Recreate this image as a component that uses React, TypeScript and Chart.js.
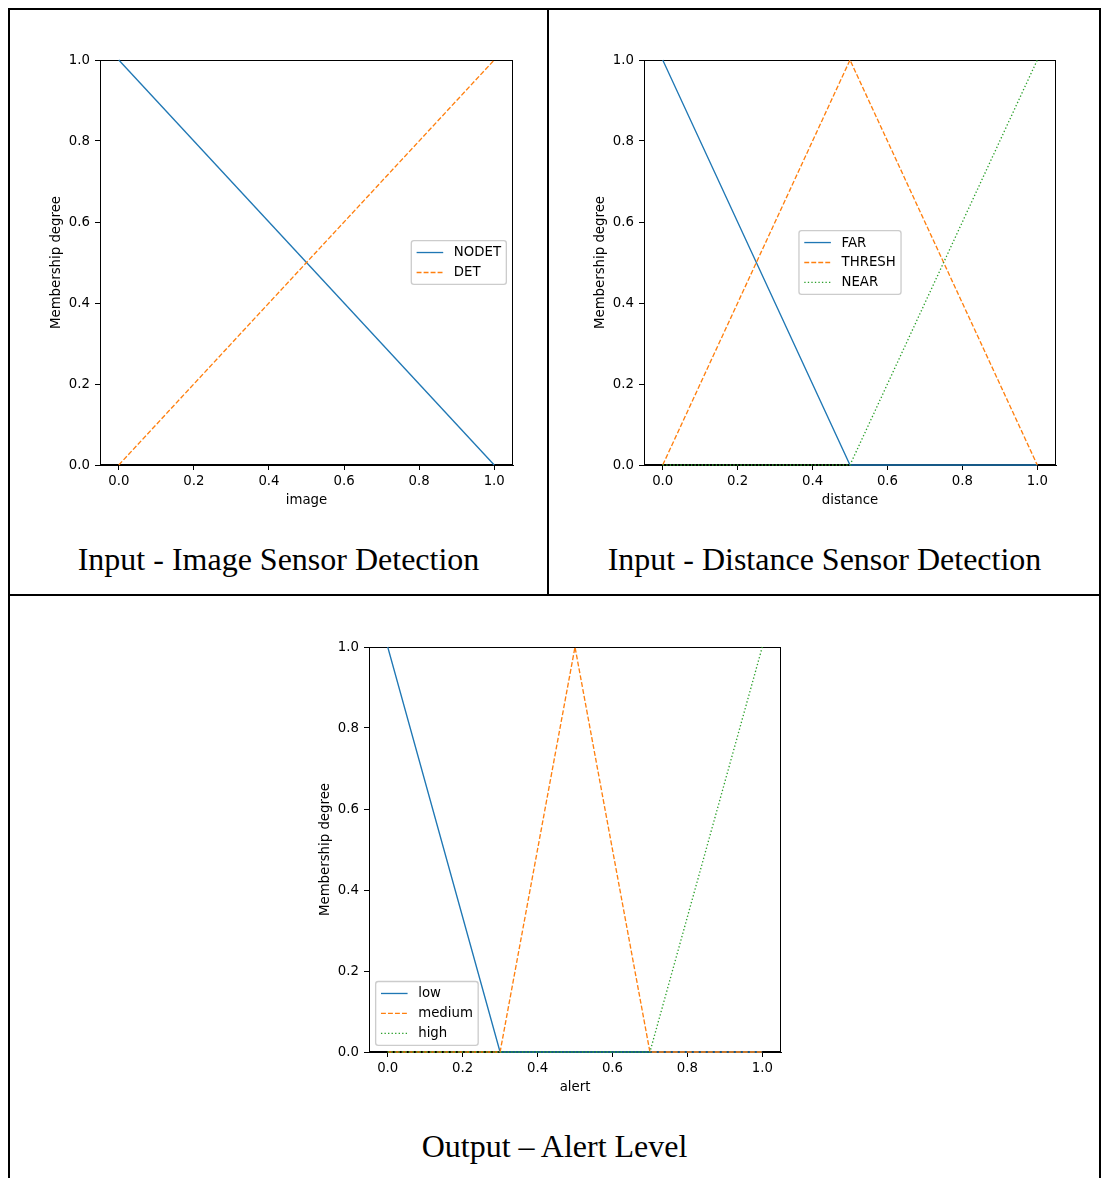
import React, { useEffect, useRef } from 'react';
import { Chart, registerables } from 'chart.js';

Chart.register(...registerables);

// ---------- data ----------
const tickValues = [0, 0.2, 0.4, 0.6, 0.8, 1.0];

const imageX = [0, 1];
const nodetY = [1, 0];
const detY = [0, 1];

const distanceX = [0, 0.5, 1];
const farY = [1, 0, 0];
const threshY = [0, 1, 0];
const nearY = [0, 0, 1];

const alertX = [0, 0.3, 0.5, 0.7, 1];
const lowY = [1, 0, 0, 0, 0];
const mediumY = [0, 0, 1, 0, 0];
const highY = [0, 0, 0, 0, 1];

const captions = ['Input - Image Sensor Detection', 'Input - Distance Sensor Detection', 'Output \u2013 Alert Level'];

// ---------- styles ----------
const BLUE = '#1f77b4';
const ORANGE = '#ff7f0e';
const GREEN = '#2ca02c';
const FS = 13.3;
const FONT_FAMILY = '"DejaVu Sans", sans-serif';
const LW = 1.33;
const DASHES: Record<string, number[]> = {
  solid: [],
  dashed: [4.9, 2.1],
  dotted: [1.33, 2.2],
};

type Style = 'solid' | 'dashed' | 'dotted';
type Series = { label: string; y: number[]; color: string; style: Style };

const frameLegendPlugin = {
  id: 'frameLegend',
  beforeDatasetsDraw(chart: any) {
    const { ctx, chartArea: ca } = chart;
    ctx.save();
    ctx.strokeStyle = '#000';
    ctx.lineWidth = 1;
    ctx.setLineDash([]);
    const l = Math.round(ca.left) + 0.5;
    const t = Math.round(ca.top) + 0.5;
    const r = Math.round(ca.right) - 0.5;
    const b = Math.round(ca.bottom) - 0.5;
    ctx.strokeRect(l, t, r - l, b - t);
    ctx.restore();
  },
  afterDatasetsDraw(chart: any) {
    const { ctx, chartArea: ca } = chart;
    ctx.save();
    const loc: string = chart.options.plugins.frameLegend?.loc || 'best';
    const items = chart.data.datasets.map((ds: any) => ({
      label: ds.label,
      color: ds.borderColor,
      dash: ds.borderDash || [],
    }));
    ctx.font = `${FS}px ${FONT_FAMILY}`;
    const borderPad = 0.4 * FS;
    const handleLen = 2 * FS;
    const handlePad = 0.8 * FS;
    const labelSp = 0.5 * FS;
    const rowH = FS;
    const axPad = 0.5 * FS;
    const maxText = Math.max(...items.map((it: any) => ctx.measureText(it.label).width));
    const w = 2 * borderPad + handleLen + handlePad + maxText;
    const h = 2 * borderPad + items.length * rowH + (items.length - 1) * labelSp;
    let x = ca.left + axPad;
    let y = ca.bottom - axPad - h;
    if (loc === 'center right') {
      x = ca.right - axPad - w;
      y = (ca.top + ca.bottom) / 2 - h / 2;
    } else if (loc === 'center') {
      x = (ca.left + ca.right) / 2 - w / 2;
      y = (ca.top + ca.bottom) / 2 - h / 2;
    }
    const rad = 0.2 * FS;
    ctx.beginPath();
    ctx.moveTo(x + rad, y);
    ctx.lineTo(x + w - rad, y);
    ctx.arcTo(x + w, y, x + w, y + rad, rad);
    ctx.lineTo(x + w, y + h - rad);
    ctx.arcTo(x + w, y + h, x + w - rad, y + h, rad);
    ctx.lineTo(x + rad, y + h);
    ctx.arcTo(x, y + h, x, y + h - rad, rad);
    ctx.lineTo(x, y + rad);
    ctx.arcTo(x, y, x + rad, y, rad);
    ctx.closePath();
    ctx.fillStyle = 'rgba(255,255,255,0.8)';
    ctx.fill();
    ctx.strokeStyle = '#cccccc';
    ctx.lineWidth = LW;
    ctx.stroke();

    items.forEach((it: any, i: number) => {
      const cy = y + borderPad + i * (rowH + labelSp) + rowH / 2;
      ctx.beginPath();
      ctx.setLineDash(it.dash);
      ctx.strokeStyle = it.color;
      ctx.lineWidth = LW;
      ctx.moveTo(x + borderPad, cy);
      ctx.lineTo(x + borderPad + handleLen, cy);
      ctx.stroke();
      ctx.setLineDash([]);
      ctx.fillStyle = '#000';
      ctx.textBaseline = 'middle';
      ctx.textAlign = 'left';
      ctx.fillText(it.label, x + borderPad + handleLen + handlePad, cy + 0.5);
    });
    ctx.restore();
  },
};

type PanelProps = {
  L: number; R: number; T: number; B: number;
  xTitle: string;
  xs: number[];
  series: Series[];
  legendLoc: string;
};

const Y_W = 55;
const X_H = 44;
const PAD_T = 20;
const PAD_R = 10;

function Panel({ L, R, T, B, xTitle, xs, series, legendLoc }: PanelProps) {
  const ref = useRef<HTMLCanvasElement>(null);
  const width = R - L + Y_W + PAD_R;
  const height = B - T + PAD_T + X_H;

  useEffect(() => {
    if (!ref.current) return;
    const n = series.length;
    const chart = new Chart(ref.current, {
      type: 'line',
      data: {
        datasets: series.map((s, i) => ({
          label: s.label,
          data: xs.map((x, j) => ({ x, y: s.y[j] })),
          borderColor: s.color,
          backgroundColor: s.color,
          borderWidth: LW,
          borderDash: DASHES[s.style],
          pointRadius: 0,
          tension: 0,
          fill: false,
          clip: 2,
          order: n - i,
        })),
      },
      options: {
        responsive: false,
        animation: false,
        devicePixelRatio: 1,
        layout: { padding: { top: PAD_T, right: PAD_R, left: 0, bottom: 0 } },
        plugins: {
          legend: { display: false },
          tooltip: { enabled: false },
          frameLegend: { loc: legendLoc },
        } as any,
        scales: {
          x: {
            type: 'linear',
            min: -0.05,
            max: 1.05,
            afterBuildTicks: (axis: any) => {
              axis.ticks = tickValues.map((v) => ({ value: v }));
            },
            afterFit: (axis: any) => {
              axis.height = X_H;
            },
            ticks: {
              color: '#000',
              padding: 4,
              maxRotation: 0,
              autoSkip: false,
              font: { family: FONT_FAMILY, size: FS },
              callback: (v: any) => Number(v).toFixed(1),
            },
            grid: {
              display: true,
              drawOnChartArea: false,
              drawTicks: true,
              tickLength: 5,
              tickColor: '#000',
              lineWidth: 1,
            },
            border: { display: true, color: '#000', width: 1 },
            title: {
              display: true,
              text: xTitle,
              color: '#000',
              font: { family: FONT_FAMILY, size: FS },
              padding: { top: 0, bottom: 0 },
            },
          },
          y: {
            type: 'linear',
            min: 0,
            max: 1,
            afterBuildTicks: (axis: any) => {
              axis.ticks = tickValues.map((v) => ({ value: v }));
            },
            afterFit: (axis: any) => {
              axis.width = Y_W;
            },
            ticks: {
              color: '#000',
              padding: 5,
              labelOffset: 1,
              autoSkip: false,
              font: { family: FONT_FAMILY, size: FS },
              callback: (v: any) => Number(v).toFixed(1),
            },
            grid: {
              display: true,
              drawOnChartArea: false,
              drawTicks: true,
              tickLength: 5,
              tickColor: '#000',
              lineWidth: 1,
            },
            border: { display: true, color: '#000', width: 1 },
            title: {
              display: true,
              text: 'Membership degree',
              color: '#000',
              font: { family: FONT_FAMILY, size: FS },
              padding: { top: 4, bottom: 0 },
            },
          },
        },
      },
      plugins: [frameLegendPlugin],
    } as any);
    return () => chart.destroy();
  }, []);

  return (
    <canvas
      ref={ref}
      width={width}
      height={height}
      style={{ position: 'absolute', left: L - Y_W, top: T - PAD_T, width, height }}
    />
  );
}

const line = (left: number, top: number, width: number, height: number) => (
  <div style={{ position: 'absolute', left, top, width, height, background: '#000' }} />
);

const captionStyle = (left: number, top: number, width: number): React.CSSProperties => ({
  position: 'absolute',
  left,
  top,
  width,
  textAlign: 'center',
  fontFamily: '"Liberation Serif", "Times New Roman", serif',
  fontSize: 32,
  lineHeight: '32px',
  color: '#000',
  whiteSpace: 'nowrap',
});

export default function App() {
  return (
    <div
      style={{
        position: 'absolute',
        left: 0,
        top: 0,
        width: 1101,
        height: 1178,
        background: '#fff',
        overflow: 'hidden',
      }}
    >
      {line(8, 8, 1093, 2)}
      {line(8, 8, 2, 1170)}
      {line(1099, 8, 2, 1170)}
      {line(547, 8, 2, 588)}
      {line(8, 594, 1093, 2)}

      <Panel
        L={100} R={513} T={60} B={465}
        xTitle="image"
        xs={imageX}
        series={[
          { label: 'NODET', y: nodetY, color: BLUE, style: 'solid' },
          { label: 'DET', y: detY, color: ORANGE, style: 'dashed' },
        ]}
        legendLoc="center right"
      />
      <Panel
        L={644} R={1056} T={60} B={465}
        xTitle="distance"
        xs={distanceX}
        series={[
          { label: 'FAR', y: farY, color: BLUE, style: 'solid' },
          { label: 'THRESH', y: threshY, color: ORANGE, style: 'dashed' },
          { label: 'NEAR', y: nearY, color: GREEN, style: 'dotted' },
        ]}
        legendLoc="center"
      />
      <Panel
        L={369} R={781} T={647} B={1052}
        xTitle="alert"
        xs={alertX}
        series={[
          { label: 'low', y: lowY, color: BLUE, style: 'solid' },
          { label: 'medium', y: mediumY, color: ORANGE, style: 'dashed' },
          { label: 'high', y: highY, color: GREEN, style: 'dotted' },
        ]}
        legendLoc="lower left"
      />

      <div style={captionStyle(9, 543, 539)}>{captions[0]}</div>
      <div style={captionStyle(549, 543, 551)}>{captions[1]}</div>
      <div style={captionStyle(9, 1130, 1091)}>{captions[2]}</div>
    </div>
  );
}
